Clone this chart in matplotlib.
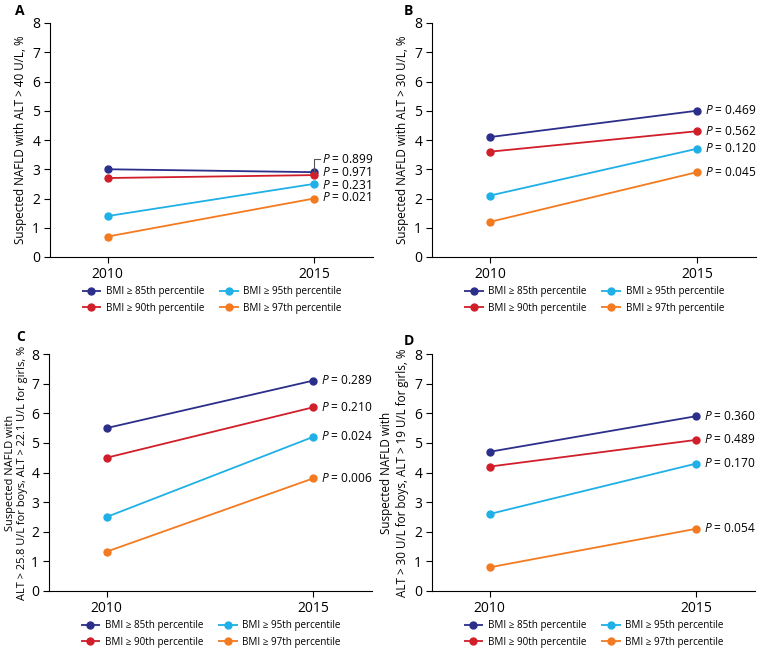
import matplotlib
matplotlib.use("Agg")
import matplotlib.pyplot as plt

plt.rcParams['font.family'] = ['Open Sans', 'DejaVu Sans']
plt.rcParams['mathtext.fontset'] = 'custom'
plt.rcParams['mathtext.it'] = 'Open Sans:italic'
plt.rcParams['mathtext.rm'] = 'Open Sans'

years = [2010, 2015]
groups = ["BMI ≥ 85th percentile", "BMI ≥ 90th percentile",
          "BMI ≥ 95th percentile", "BMI ≥ 97th percentile"]
colors = ["#2b2f8a", "#d01f2a", "#1eb0e6", "#f47a20"]

# panel A: ALT > 40 U/L
a_vals = [[3.0, 2.9], [2.7, 2.8], [1.4, 2.5], [0.7, 2.0]]
a_p = ["0.899", "0.971", "0.231", "0.021"]
# panel B: ALT > 30 U/L
b_vals = [[4.1, 5.0], [3.6, 4.3], [2.1, 3.7], [1.2, 2.9]]
b_p = ["0.469", "0.562", "0.120", "0.045"]
# panel C
c_vals = [[5.5, 7.1], [4.5, 6.2], [2.5, 5.2], [1.33, 3.8]]
c_p = ["0.289", "0.210", "0.024", "0.006"]
# panel D
d_vals = [[4.7, 5.9], [4.2, 5.1], [2.6, 4.3], [0.8, 2.1]]
d_p = ["0.360", "0.489", "0.170", "0.054"]

# panel A labels are nudged apart so they do not collide
a_label_y = [3.34, 2.88, 2.46, 2.03]

ylabels = ["Suspected NAFLD with ALT > 40 U/L, %",
           "Suspected NAFLD with ALT > 30 U/L, %",
           "Suspected NAFLD with\nALT > 25.8 U/L for boys, ALT > 22.1 U/L for girls, %",
           "Suspected NAFLD with\nALT > 30 U/L for boys, ALT > 19 U/L for girls, %"]
letters = ["A", "B", "C", "D"]

fig = plt.figure(figsize=(7.59, 6.51), dpi=100)
W, H = 759, 651

# axes rects in pixels: left, top, right, bottom
rects = [(50, 23, 373, 257), (432, 23, 756, 257),
         (49, 354, 372, 591), (432, 354, 755, 591)]
letter_pos = [(15, 4), (404, 4), (16, 330), (404, 334)]
all_vals = [a_vals, b_vals, c_vals, d_vals]
all_p = [a_p, b_p, c_p, d_p]

for k in range(4):
    l, t, r, b = rects[k]
    ax = fig.add_axes([l / W, 1 - b / H, (r - l) / W, (b - t) / H])
    vals = all_vals[k]
    for i in range(4):
        ax.plot(years, vals[i], color=colors[i], lw=1.3, marker='o', ms=5,
                label=groups[i], solid_capstyle='butt')
    ax.set_ylim(0, 8)
    ax.set_xlim(2008.6, 2016.43)
    ax.set_xticks(years)
    ax.set_yticks(range(9))
    ax.spines['top'].set_visible(False)
    ax.spines['right'].set_visible(False)
    ax.spines['left'].set_linewidth(0.8)
    ax.spines['bottom'].set_linewidth(0.8)
    ax.tick_params(labelsize=10, length=4, width=0.8, pad=3)
    if k == 2:
        ax.set_ylabel(ylabels[k], fontsize=7.9, labelpad=2, linespacing=1.2)
    else:
        ax.set_ylabel(ylabels[k], fontsize=8.4, labelpad=4, linespacing=1.25)

    for i in range(4):
        y = vals[i][1]
        ytxt = a_label_y[i] if k == 0 else y
        if k == 0 and i == 0:
            ax.plot([2015, 2015, 2015.14], [y, ytxt, ytxt], color='#555555', lw=0.8)
        ax.text(2015.2, ytxt, r"$\it{P}$ = " + all_p[k][i], fontsize=8.6,
                va='center', ha='left')

    ax.legend(loc='upper center', bbox_to_anchor=(0.5, -29 / (b - t)), ncol=2,
              frameon=False, fontsize=7.1, handlelength=2.0, columnspacing=1.5,
              labelspacing=0.6, handletextpad=0.45, borderaxespad=0,
              borderpad=0)

    lx, ly = letter_pos[k]
    fig.text(lx / W, 1 - ly / H, letters[k], fontsize=10, fontweight='bold',
             va='top', ha='left')

fig.savefig("out.png", dpi=100)
